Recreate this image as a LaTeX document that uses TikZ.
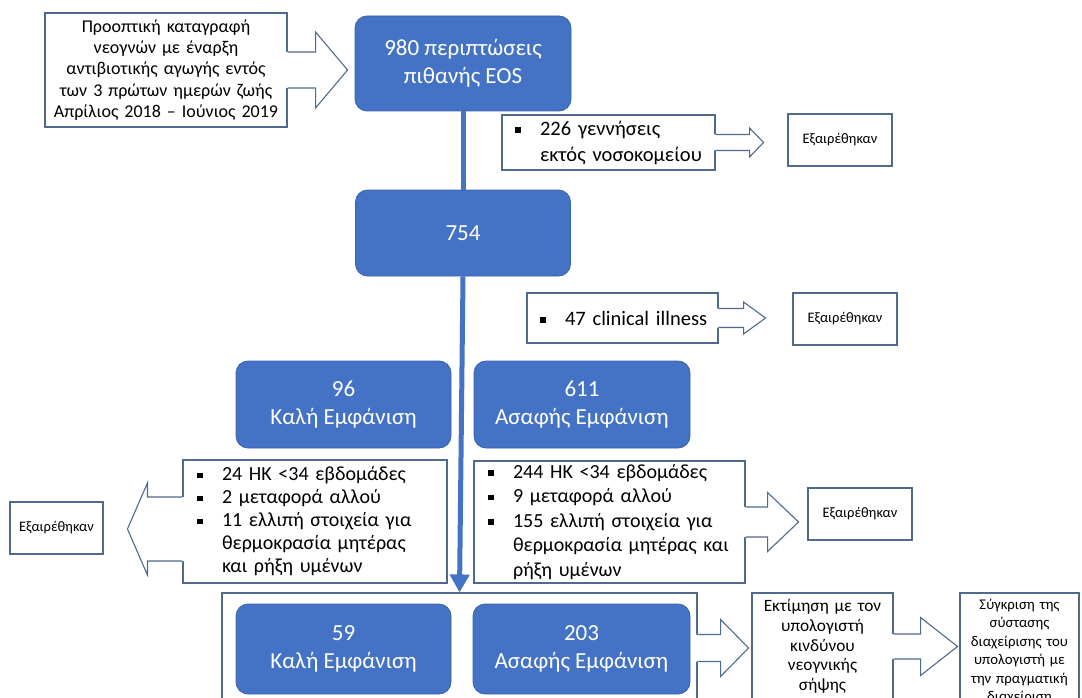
\documentclass[tikz,border=0pt]{standalone}
\usepackage{fontspec}
\setmainfont{Carlito}
\usetikzlibrary{calc,arrows.meta}
\definecolor{bfill}{HTML}{4472C4}
\definecolor{bdraw}{HTML}{3A63AC}
\definecolor{outc}{RGB}{78,106,140}
\newcommand{\bul}{\raisebox{2.5pt}{\rule{5.5pt}{5.5pt}}}
\newcommand{\bi}[1]{\makebox[25pt][l]{\bul}#1}
\newcommand{\ci}[1]{\hspace*{25pt}#1}
% right-pointing block arrow leaving a box: node, y offset, shaft half, head half, shaft length, head length
\newcommand{\calloutR}[6]{%
  \coordinate (ca) at ($(#1.east)+(0,#2)$);
  \fill[white] ($(ca)+(-2,-#3)$) -- ($(ca)+(#5,-#3)$) -- ($(ca)+(#5,-#4)$) -- ($(ca)+(#5+#6,0)$) -- ($(ca)+(#5,#4)$) -- ($(ca)+(#5,#3)$) -- ($(ca)+(-2,#3)$) -- cycle;
  \draw[outl] ($(ca)+(0,-#3)$) -- ($(ca)+(#5,-#3)$) -- ($(ca)+(#5,-#4)$) -- ($(ca)+(#5+#6,0)$) -- ($(ca)+(#5,#4)$) -- ($(ca)+(#5,#3)$) -- ($(ca)+(0,#3)$);
}
\newcommand{\calloutL}[6]{%
  \coordinate (ca) at ($(#1.west)+(0,#2)$);
  \fill[white] ($(ca)+(2,-#3)$) -- ($(ca)+(-#5,-#3)$) -- ($(ca)+(-#5,-#4)$) -- ($(ca)+(-#5-#6,0)$) -- ($(ca)+(-#5,#4)$) -- ($(ca)+(-#5,#3)$) -- ($(ca)+(2,#3)$) -- cycle;
  \draw[outl] ($(ca)+(0,-#3)$) -- ($(ca)+(-#5,-#3)$) -- ($(ca)+(-#5,-#4)$) -- ($(ca)+(-#5-#6,0)$) -- ($(ca)+(-#5,#4)$) -- ($(ca)+(-#5,#3)$) -- ($(ca)+(0,#3)$);
}
\tikzset{
  bluebox/.style={draw=bdraw, line width=0.8pt, fill=bfill, rounded corners=12pt, text=white,
    align=center, font=\fontsize{23}{27.5}\selectfont, inner sep=0pt},
  outl/.style={draw=outc, line width=1.1pt, line join=miter},
  wbox/.style={outl, fill=white, inner sep=0pt},
  excl/.style={wbox, font=\fontsize{14.5}{17}\selectfont, minimum width=104pt, minimum height=52pt},
  listbox/.style={wbox, align=left, font=\fontsize{20}{24}\selectfont},
  mainline/.style={draw=bfill, line width=5pt}
}
\begin{document}
\begin{tikzpicture}[x=1pt,y=-1pt]
\useasboundingbox (0,0) rectangle (1082,698);
\fill[white] (0,0) rectangle (1082,698);
\clip (0,0) rectangle (1082,698);

% top-left callout
\node[wbox, minimum width=242pt, minimum height=114pt, text width=238pt, align=center,
  font=\fontsize{18}{21.3}\selectfont] (src) at (166,70)
  {Προοπτική καταγραφή\\νεογνών με έναρξη\\αντιβιοτικής αγωγής εντός\\των 3 πρώτων ημερών ζωής\\Απρίλιος 2018 – Ιούνιος 2019};
\calloutR{src}{0}{18}{38}{28}{32}

% main column
\node[bluebox, minimum width=216pt, minimum height=95pt] (n980) at (463,63.5) {980 περιπτώσεις\\πιθανής EOS};
\node[bluebox, minimum width=215pt, minimum height=86pt] (n754) at (463,233) {754};

% 226 exclusion
\node[listbox, text width=187pt, inner xsep=13pt, minimum height=55pt, font=\fontsize{20.5}{26}\selectfont] (x226) at (608.5,142.5)
  {\bi{226 γεννήσεις}\\\ci{εκτός νοσοκομείου}};
\calloutR{x226}{0}{8}{14.5}{34}{14}
\node[excl] (e1) at (840,140) {Εξαιρέθηκαν};

% 47 exclusion
\node[listbox, text width=165pt, inner xsep=13pt, minimum height=50pt, font=\fontsize{20.5}{25}\selectfont] (x47) at (622.5,318)
  {\mbox{\bi{47 clinical illness}}};
\calloutR{x47}{0}{9.5}{16}{25}{22}
\node[excl] (e2) at (845,319) {Εξαιρέθηκαν};

% appearance groups
\node[bluebox, minimum width=215pt, minimum height=87pt] (n96) at (343.5,404.5) {96\\Καλή Εμφάνιση};
\node[bluebox, minimum width=216pt, minimum height=87pt] (n611) at (582,404.5) {611\\Ασαφής Εμφάνιση};

% left exclusion callout
\node[listbox, text width=236pt, inner xsep=14pt, minimum height=123pt, font=\fontsize{20}{23}\selectfont] (xl) at (315,521.5)
  {\bi{24 ΗΚ <34 εβδομάδες}\\\bi{2 μεταφορά αλλού}\\\bi{11 ελλιπή στοιχεία για}\\\ci{θερμοκρασία μητέρας}\\\ci{και ρήξη υμένων}};
\calloutL{xl}{7.5}{32}{46}{35}{20}
\node[excl, minimum width=93pt] (el) at (56.5,528) {Εξαιρέθηκαν};

% right exclusion callout
\node[listbox, text width=243pt, inner xsep=14pt, minimum height=122pt, font=\fontsize{20}{24.5}\selectfont] (xr) at (609.5,522)
  {\bi{244 ΗΚ <34 εβδομάδες}\\\bi{9 μεταφορά αλλού}\\\bi{155 ελλιπή στοιχεία για}\\\ci{θερμοκρασία μητέρας και}\\\ci{ρήξη υμένων}};
\calloutR{xr}{0}{15}{29.5}{22}{31}
\node[excl] (e3) at (860,514) {Εξαιρέθηκαν};

% bottom container
\node[wbox, minimum width=475pt, minimum height=110pt] (cont) at (459.5,648) {};
\node[bluebox, minimum width=215pt, minimum height=90pt] (n59) at (343.5,649) {59\\Καλή Εμφάνιση};
\node[bluebox, minimum width=217pt, minimum height=90pt] (n203) at (581.5,649) {203\\Ασαφής Εμφάνιση};
\calloutR{cont}{0}{13.5}{28.5}{23}{28}

\node[wbox, minimum width=141pt, minimum height=107pt, text width=139pt, align=center,
  font=\fontsize{17.3}{19.7}\selectfont] (est) at (822.5,646.5)
  {Εκτίμηση με τον\\υπολογιστή\\κινδύνου\\νεογνικής\\σήψης};
\calloutR{est}{0}{12.5}{29}{27}{37}
\node[wbox, minimum width=119pt, minimum height=117pt, text width=117pt, align=center,
  font=\fontsize{14.8}{18.5}\selectfont] (cmp) at (1019.5,651.5)
  {Σύγκριση της\\σύστασης\\διαχείρισης του\\υπολογιστή με\\την πραγματική\\διαχείριση};

% main flow line
\draw[mainline] (n980.south) -- (n754.north);
\draw[mainline, -{Triangle[width=19pt,length=18pt]}] (n754.south) -- (cont.north);
\end{tikzpicture}
\end{document}
